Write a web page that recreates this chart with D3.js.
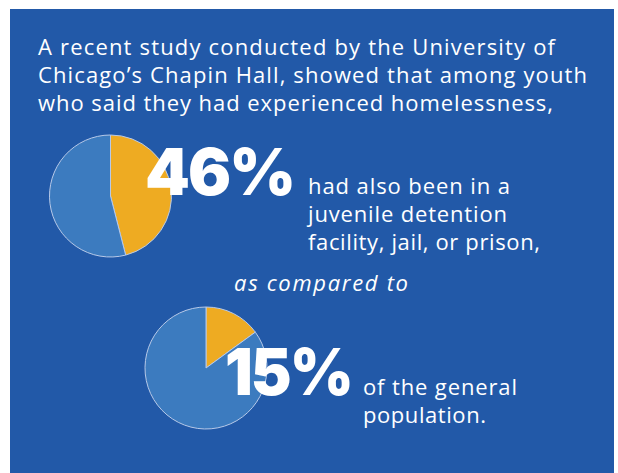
<!DOCTYPE html>
<html>
<head>
<meta charset="utf-8">
<script src="https://cdn.jsdelivr.net/npm/d3@7"></script>
<style>
  html, body { margin: 0; padding: 0; background: #ffffff; }
  svg { display: block; }
</style>
</head>
<body>
<svg id="chart" width="618" height="473"></svg>
<script>
// ---- data ----
const headerLines = [
  "A recent study conducted by the University of",
  "Chicago\u2019s Chapin Hall, showed that among youth",
  "who said they had experienced homelessness,"
];
const groups = ["Youth who experienced homelessness", "General population"];
const shares = [46, 15];                 // percent ever in detention, jail or prison
const shareLabels = ["46%", "15%"];
const captionLines = [
  ["had also been in a", "juvenile detention", "facility, jail, or prison,"],
  ["of the general", "population."]
];
const connectorText = "as compared to";

// ---- styles ----
const panelBlue = "#2259a8";
const pieBlue = "#3c7bbf";
const pieOrange = "#eeab22";
const bodyFont = "'Open Sans', 'Noto Sans', sans-serif";
const bigFont = "Inter, Lato, sans-serif";
const bodySize = 22;
const lineStep = 28.2;

const svg = d3.select("#chart");

// blue panel
svg.append("rect")
  .attr("x", 10).attr("y", 9)
  .attr("width", 604).attr("height", 464)
  .attr("fill", panelBlue);

// stretch a text node to a given width
function fit(sel, w, adjust) {
  sel.attr("textLength", w).attr("lengthAdjust", adjust || "spacing");
  return sel;
}

// header paragraph
const headerWidths = [517, 549, 515];
headerLines.forEach((line, i) => {
  fit(svg.append("text")
    .attr("x", 38).attr("y", 55 + i * lineStep)
    .attr("fill", "#ffffff")
    .attr("font-family", bodyFont)
    .attr("font-size", bodySize)
    .text(line), headerWidths[i]);
});

// pies
const pie = d3.pie().sort(null).startAngle(0).endAngle(2 * Math.PI);
const radius = 61;
const arc = d3.arc().innerRadius(0).outerRadius(radius);
const keys = ["share", "rest"];
const pieColor = d3.scaleOrdinal().domain(keys).range([pieOrange, pieBlue]);

const pieCentres = [[110.5, 196], [206, 368]];
const bigLayout = [
  { x: 145, y: 195, w: 149 },
  { x: 225, y: 395, w: 127 }
];
const captionLayout = [
  { x: 308, y: 194, widths: [202, 199, 232] },
  { x: 363, y: 395, widths: [154, 123] }
];

shares.forEach((v, i) => {
  const g = svg.append("g")
    .attr("class", "pie")
    .attr("aria-label", groups[i])
    .attr("transform", `translate(${pieCentres[i][0]},${pieCentres[i][1]})`);
  g.selectAll("path")
    .data(pie([v, 100 - v]))
    .join("path")
    .attr("d", arc)
    .attr("fill", (d, j) => pieColor(keys[j]))
    .attr("stroke", "#b7c9e8")
    .attr("stroke-width", 1);
});

// big percentages, drawn over the pies
shareLabels.forEach((lab, i) => {
  const L = bigLayout[i];
  fit(svg.append("text")
    .attr("x", L.x).attr("y", L.y)
    .attr("fill", "#ffffff")
    .attr("font-family", bigFont)
    .attr("font-weight", 900)
    .attr("font-size", 64)
    .attr("letter-spacing", -2)
    .text(lab), L.w, "spacingAndGlyphs");
});

// captions beside each percentage
captionLines.forEach((lines, i) => {
  const L = captionLayout[i];
  lines.forEach((line, k) => {
    fit(svg.append("text")
      .attr("x", L.x).attr("y", L.y + k * lineStep)
      .attr("fill", "#ffffff")
      .attr("font-family", bodyFont)
      .attr("font-size", bodySize)
      .text(line), L.widths[k]);
  });
});

// connector phrase
fit(svg.append("text")
  .attr("x", 234).attr("y", 291)
  .attr("fill", "#ffffff")
  .attr("font-family", bodyFont)
  .attr("font-style", "italic")
  .attr("font-size", bodySize)
  .text(connectorText), 174);
</script>
</body>
</html>
